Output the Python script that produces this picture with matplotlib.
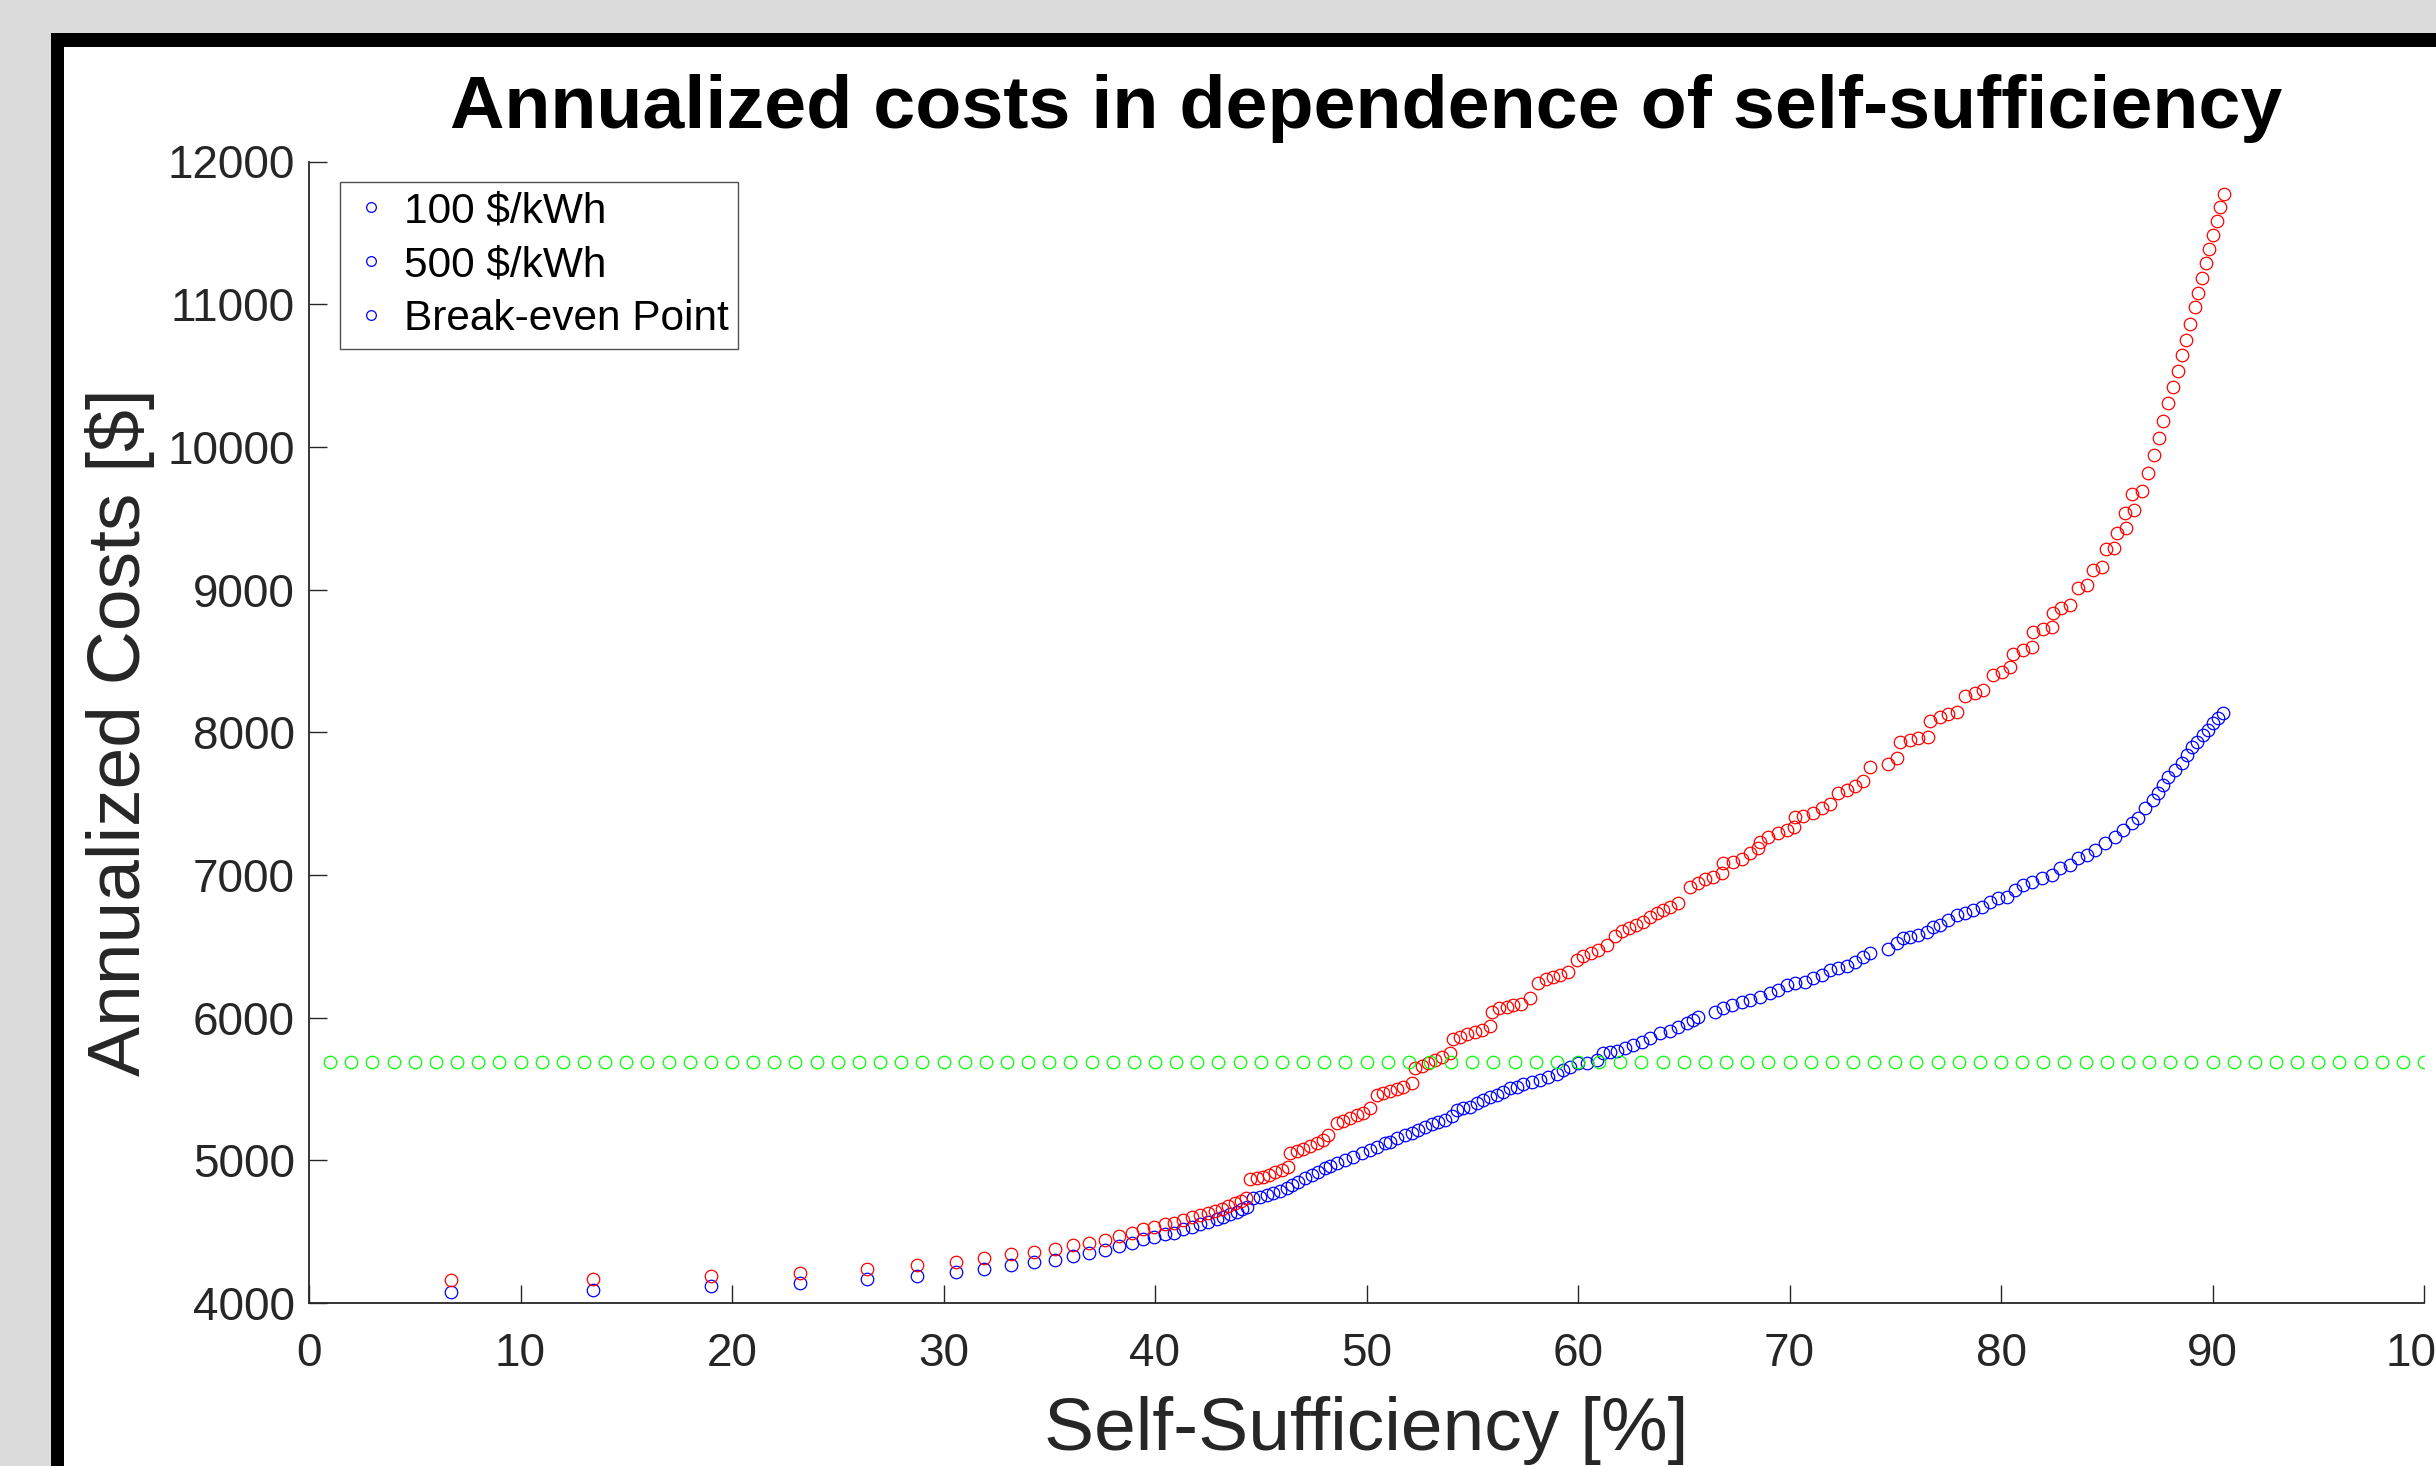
import matplotlib.pyplot as plt
from matplotlib.lines import Line2D
from matplotlib.patches import Rectangle

# values
self_suff_100 = [
  6.73, 13.42, 19.03, 23.20, 26.40, 28.76, 30.60,
  31.91, 33.19, 34.28, 35.27, 36.14, 36.89, 37.64, 38.30, 38.90, 39.45,
  39.97, 40.47, 40.91, 41.34, 41.73, 42.13, 42.52, 42.92, 43.23, 43.55,
  43.86, 44.10, 44.33,
  44.65, 44.96, 45.28, 45.59, 45.91, 46.22, 46.46, 46.78, 47.09, 47.41,
  47.72, 48.04, 48.28, 48.59, 48.99, 49.38, 49.77, 50.17, 50.48, 50.88,
  51.11, 51.43, 51.82, 52.14, 52.45, 52.77, 53.08, 53.40, 53.71, 54.03,
  54.26, 54.58, 54.89, 55.21, 55.52, 55.84, 56.15, 56.47, 56.78, 57.10,
  57.41, 57.81, 58.20, 58.60, 58.99, 59.31, 59.62, 60.02, 60.41, 60.88,
  61.20, 61.51, 61.83, 62.22, 62.62, 63.01, 63.40, 63.88, 64.35, 64.74,
  65.14, 65.46, 65.69,
  66.48, 66.87, 67.26, 67.74, 68.13, 68.60, 69.08, 69.47, 69.87, 70.26,
  70.73, 71.13, 71.52, 71.91, 72.31, 72.70, 73.10, 73.49, 73.81,
  74.67, 75.07, 75.38, 75.70, 76.09, 76.49, 76.80, 77.12, 77.51, 77.90,
  78.30, 78.69, 79.09, 79.48, 79.87, 80.27, 80.66,
  81.06, 81.45, 81.92, 82.40, 82.79, 83.26, 83.66, 84.05, 84.44, 84.92,
  85.39, 85.78, 86.18, 86.49, 86.81, 87.20, 87.44, 87.67, 87.91, 88.23,
  88.54, 88.78, 89.01, 89.25, 89.57, 89.80, 90.04, 90.28, 90.51,
]
costs_100 = [
  4077, 4094, 4117, 4138, 4166, 4187, 4215,
  4236, 4266, 4285, 4301, 4332, 4348, 4371, 4399, 4418, 4446,
  4465, 4484, 4493, 4516, 4535, 4554, 4570, 4589, 4605, 4621,
  4640, 4656, 4675,
  4733, 4745, 4757, 4769, 4787, 4804, 4827, 4850, 4874, 4897,
  4920, 4944, 4960, 4979, 5002, 5026, 5049, 5072, 5091, 5119,
  5131, 5154, 5177, 5189, 5212, 5236, 5254, 5271, 5282, 5310,
  5353, 5364, 5376, 5399, 5423, 5441, 5458, 5481, 5504, 5516,
  5535, 5551, 5563, 5581, 5605, 5633, 5656, 5680, 5684, 5703,
  5750, 5761, 5768, 5785, 5808, 5831, 5855, 5890, 5909, 5937,
  5960, 5983, 6007,
  6042, 6065, 6088, 6112, 6123, 6147, 6170, 6194, 6229, 6240,
  6252, 6275, 6299, 6334, 6345, 6362, 6392, 6427, 6455,
  6479, 6521, 6556, 6567, 6579, 6602, 6637, 6649, 6684, 6719,
  6731, 6754, 6778, 6813, 6836, 6848, 6894,
  6929, 6953, 6976, 6999, 7046, 7070, 7116, 7140, 7175, 7221,
  7268, 7315, 7362, 7397, 7467, 7525, 7572, 7630, 7689, 7735,
  7782, 7840, 7899, 7934, 7981, 8016, 8062, 8097, 8132,
]

self_suff_500 = [
  6.73, 13.42, 19.03, 23.20, 26.40, 28.76, 30.60,
  31.91, 33.19, 34.28, 35.27, 36.14, 36.89, 37.64, 38.30, 38.90, 39.45,
  39.97, 40.47, 40.91, 41.34, 41.73, 42.13, 42.52, 42.84, 43.15, 43.47,
  43.78, 44.05, 44.30,
  44.49, 44.81, 45.12, 45.41, 45.67, 45.99, 46.30,
  46.38, 46.70, 47.01, 47.33, 47.64, 47.96, 48.19,
  48.59, 48.90, 49.22, 49.53, 49.85, 50.17,
  50.48, 50.80, 51.11, 51.43, 51.74, 52.14,
  52.29, 52.61, 52.92, 53.24, 53.55, 53.95,
  54.11, 54.42, 54.77, 55.13, 55.45, 55.84,
  55.92, 56.26, 56.63, 56.94, 57.29, 57.73,
  58.12, 58.49, 58.83, 59.15, 59.54,
  59.94, 60.25, 60.60, 60.96, 61.36,
  61.75, 62.07, 62.43, 62.74, 63.06, 63.40,
  63.72, 64.03, 64.35, 64.74,
  65.30, 65.69, 66.00, 66.40, 66.79,
  66.87, 67.34, 67.74, 68.13, 68.53,
  68.61, 69.00, 69.47, 69.87, 70.21,
  70.26, 70.65, 71.13, 71.52, 71.91,
  72.31, 72.70, 73.10, 73.49,
  73.81, 74.67, 75.07,
  75.22, 75.70, 76.09, 76.56,
  76.64, 77.12, 77.51, 77.90,
  78.30, 78.77, 79.16,
  79.64, 80.03, 80.43,
  80.58, 81.02, 81.45,
  81.53, 81.97, 82.40,
  82.45, 82.82, 83.26,
  83.66, 84.05,
  84.37, 84.76,
  84.96, 85.34, 85.50, 85.91, 85.85, 86.29, 86.20, 86.65, 86.97, 87.23,
  87.47, 87.67, 87.91, 88.15, 88.35, 88.56, 88.75, 88.95, 89.16, 89.33,
  89.50, 89.69, 89.85, 90.04, 90.20, 90.35, 90.54,
]
costs_500 = [
  4159, 4171, 4192, 4213, 4241, 4265, 4286,
  4313, 4343, 4360, 4376, 4406, 4423, 4444, 4472, 4493, 4521,
  4535, 4551, 4563, 4582, 4600, 4614, 4633, 4647, 4661, 4680,
  4698, 4717, 4736,
  4867, 4876, 4885, 4899, 4916, 4932, 4951,
  5054, 5068, 5082, 5100, 5119, 5142, 5177,
  5259, 5278, 5294, 5315, 5334, 5364,
  5458, 5474, 5488, 5500, 5516, 5544,
  5645, 5663, 5680, 5703, 5726, 5754,
  5848, 5866, 5885, 5902, 5913, 5941,
  6042, 6065, 6077, 6088, 6095, 6135,
  6245, 6268, 6282, 6299, 6322,
  6404, 6432, 6450, 6474, 6509,
  6572, 6607, 6626, 6649, 6672, 6703,
  6731, 6754, 6778, 6801,
  6913, 6946, 6969, 6983, 7016,
  7081, 7093, 7109, 7151, 7186,
  7233, 7268, 7291, 7315, 7338,
  7404, 7413, 7436, 7467, 7497,
  7572, 7595, 7623, 7661,
  7754, 7777, 7817,
  7934, 7946, 7957, 7969,
  8081, 8109, 8128, 8144,
  8254, 8277, 8296,
  8401, 8424, 8455,
  8548, 8576, 8595,
  8705, 8721, 8740,
  8833, 8868, 8892,
  9008, 9032,
  9137, 9160,
  9282, 9289, 9398, 9429, 9534, 9557, 9667, 9693, 9814, 9940,
  10064, 10183, 10305, 10422, 10534, 10646, 10749, 10861, 10980, 11078,
  11183, 11291, 11386, 11482, 11583, 11678, 11770,
]

# break-even line: one marker at every integer percent
break_even_x = list(range(1, 101))
break_even_cost = 5687

legend_labels = ['100 $/kWh', '500 $/kWh', 'Break-even Point']
x_ticks = [0, 10, 20, 30, 40, 50, 60, 70, 80, 90, 100]
y_ticks = [4000, 5000, 6000, 7000, 8000, 9000, 10000, 11000, 12000]

plt.rcParams['font.family'] = ['Liberation Sans', 'DejaVu Sans']

W, H = 2436, 1466
fig = plt.figure(figsize=(W / 100, H / 100), dpi=100)
fig.patch.set_facecolor('#dcdbdb')

# window frame (only left and top edges are inside the screenshot)
fig.add_artist(Rectangle((51 / W, -0.1), 1.2, 1 - 33 / H + 0.1,
                         transform=fig.transFigure, facecolor='black',
                         edgecolor='none', zorder=-10))
fig.add_artist(Rectangle((64 / W, -0.1), 1.2, 1 - 47 / H + 0.1,
                         transform=fig.transFigure, facecolor='white',
                         edgecolor='none', zorder=-9))

ax_l, ax_r = 309 / W, 2424 / W
ax_b, ax_t = 1 - 1303 / H, 1 - 161.5 / H
ax = fig.add_axes([ax_l, ax_b, ax_r - ax_l, ax_t - ax_b])
ax.set_facecolor('none')

mk = dict(marker='o', ls='none', markersize=9, markerfacecolor='none',
          markeredgewidth=0.9)
ax.plot(self_suff_100, costs_100, markeredgecolor='#0000ff', **mk)
ax.plot(self_suff_500, costs_500, markeredgecolor='#ff0000', **mk)
ax.plot(break_even_x, [break_even_cost] * len(break_even_x),
        markeredgecolor='#00ff00', **mk)

ax.set_xlim(0, 100)
ax.set_ylim(4000, 12000)
ax.set_xticks(x_ticks)
ax.set_yticks(y_ticks)
for side in ['top', 'right']:
  ax.spines[side].set_visible(False)
for side in ['left', 'bottom']:
  ax.spines[side].set_color('#262626')
  ax.spines[side].set_linewidth(1.3)
ax.tick_params(direction='in', length=13, width=1.0, color='#262626',
               labelsize=33, labelcolor='#262626')
ax.tick_params(axis='x', pad=21)
ax.tick_params(axis='y', pad=10)

ax.set_title('Annualized costs in dependence of self-sufficiency',
             fontsize=54.3, fontweight='bold', pad=24)
fig.text(120 / W, 1 - 732 / H, 'Annualized Costs [$]', rotation=90,
         ha='center', va='center', fontsize=54, color='#262626')
fig.text(1366 / W, 1 - 1396 / H, 'Self-Sufficiency [%]', ha='center',
         va='top', fontsize=54, color='#262626')

# the original legend shows blue markers for all three entries
handles = [Line2D([], [], marker='o', ls='none', markersize=7,
                  markerfacecolor='none', markeredgecolor='#0000ff',
                  markeredgewidth=0.9) for _ in legend_labels]
leg = ax.legend(handles, legend_labels, loc='upper left',
                bbox_to_anchor=(340 / W, 1 - 182 / H),
                bbox_transform=fig.transFigure, borderaxespad=0,
                fontsize=30.5, frameon=True, fancybox=False,
                handlelength=1.0, handletextpad=0.28, labelspacing=0.33,
                borderpad=0.22)
leg.get_frame().set_edgecolor('#262626')
leg.get_frame().set_linewidth(1.0)

fig.savefig('out.png', dpi=100, facecolor=fig.get_facecolor())
